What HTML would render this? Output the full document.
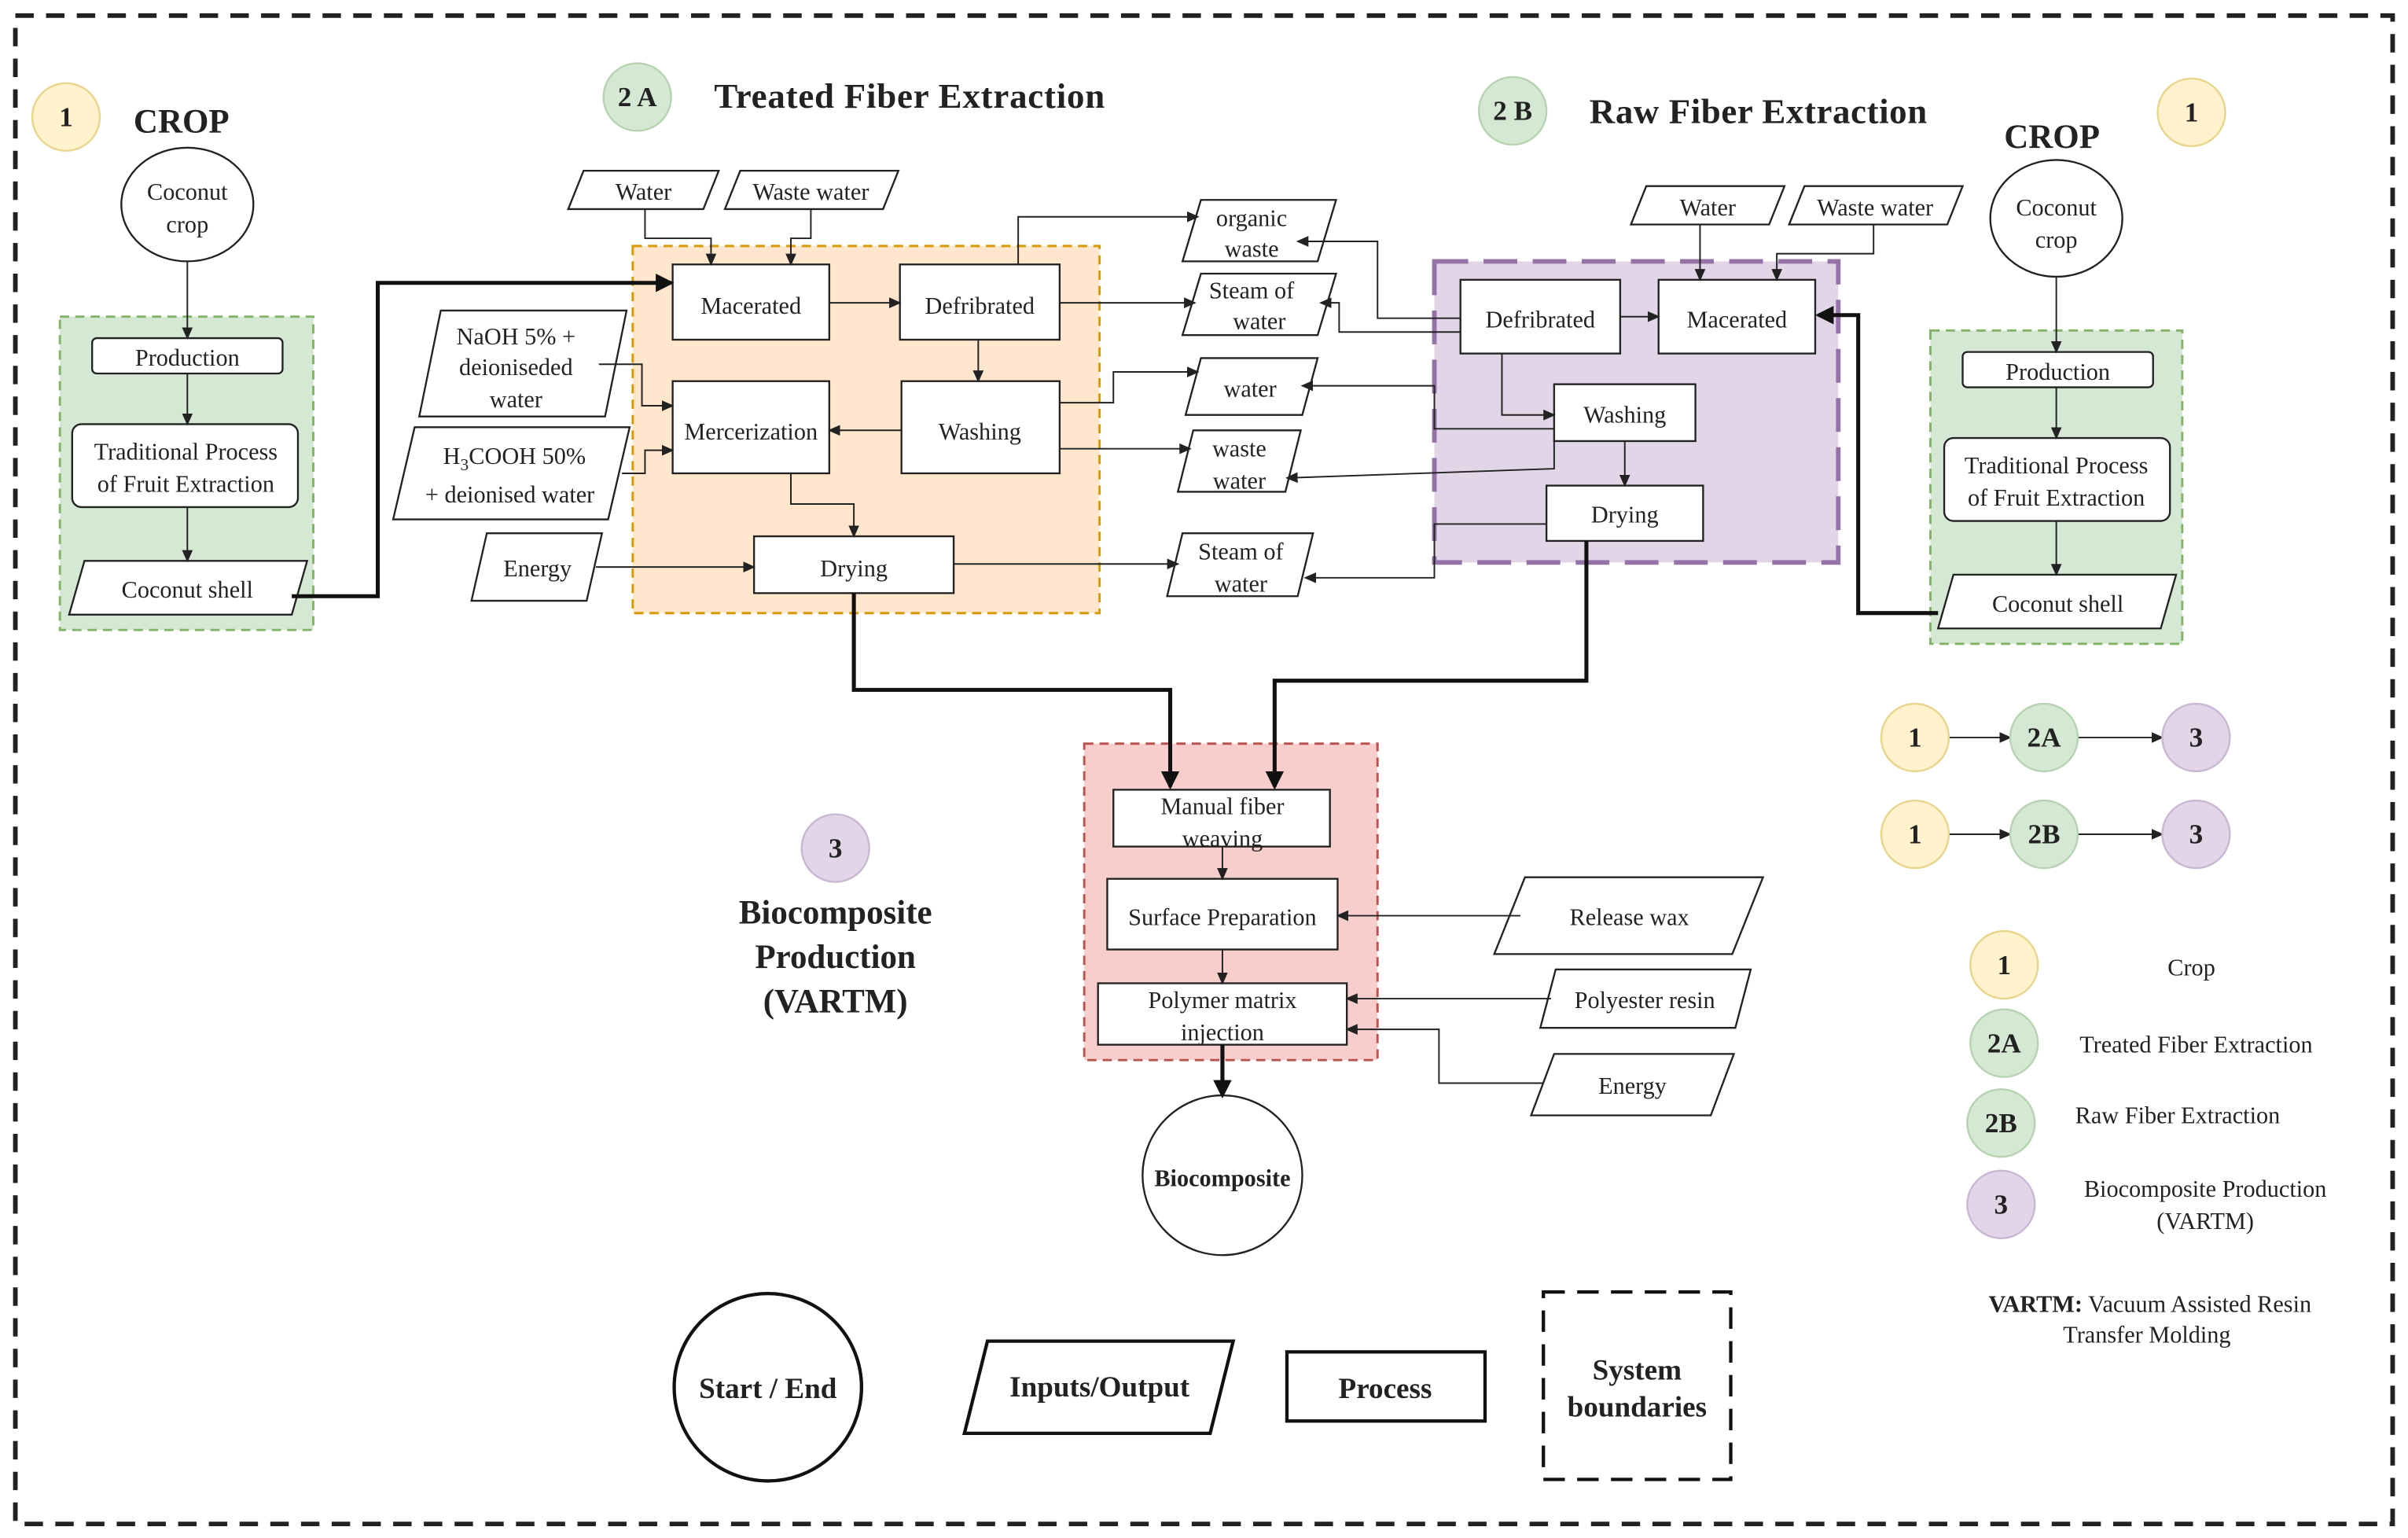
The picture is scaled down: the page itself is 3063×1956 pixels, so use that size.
<!DOCTYPE html>
<html><head><meta charset="utf-8"><style>
html,body{margin:0;padding:0;background:#fff}
svg{display:block}
text{font-family:"Liberation Serif",serif;fill:#222}
</style></head><body>
<svg width="3063" height="1956" viewBox="0 0 1568 1001" xmlns="http://www.w3.org/2000/svg">
<defs>
<marker id="a" markerUnits="userSpaceOnUse" markerWidth="8" markerHeight="8" refX="7" refY="4" orient="auto"><path d="M0,0.5 L8,4 L0,7.5 z" fill="#222"/></marker>
<marker id="b" markerUnits="userSpaceOnUse" markerWidth="12" markerHeight="12" refX="10" refY="6" orient="auto"><path d="M0,0 L12,6 L0,12 z" fill="#111"/></marker>
</defs>
<rect x="0" y="0" width="1568" height="1001" fill="#fff"/>
<rect x="10" y="10" width="1548" height="982" fill="none" stroke="#222" stroke-width="3" stroke-dasharray="12,8"/>

<rect x="39" y="206" width="165" height="204" fill="#d5e8d4" stroke="#82b366" stroke-width="1.5" stroke-dasharray="6,4"/>
<rect x="1257" y="215" width="164" height="204" fill="#d5e8d4" stroke="#82b366" stroke-width="1.5" stroke-dasharray="6,4"/>
<rect x="412" y="160" width="304" height="239" fill="#ffe6cc" stroke="#d79b00" stroke-width="1.5" stroke-dasharray="6,4"/>
<rect x="934" y="170" width="263" height="196" fill="#e1d5e7" stroke="#9673a6" stroke-width="3" stroke-dasharray="22,10"/>
<rect x="706" y="484" width="191" height="206" fill="#f8cecc" stroke="#b85450" stroke-width="1.5" stroke-dasharray="6,4"/>

<g stroke="#222" stroke-width="1.2" fill="#fff">
<ellipse cx="122" cy="133" rx="43" ry="37"/>
<rect x="60" y="220" width="124" height="23" rx="3"/>
<rect x="47" y="276" width="147" height="54" rx="6"/>
<polygon points="55,365 200,365 190,400 45,400"/>
<ellipse cx="1339" cy="142" rx="43" ry="38"/>
<rect x="1278" y="229" width="124" height="23" rx="3"/>
<rect x="1266" y="285" width="147" height="54" rx="6"/>
<polygon points="1272,374 1417,374 1407,409 1262,409"/>
<polygon points="380,111 468,111 458,136 370,136"/>
<polygon points="482,111 585,111 575,136 472,136"/>
<rect x="438" y="172" width="102" height="49"/>
<rect x="586" y="172" width="104" height="49"/>
<polygon points="287,202 408,202 394,271 273,271"/>
<polygon points="270,278 410,278 396,338 256,338"/>
<rect x="438" y="248" width="102" height="60"/>
<rect x="587" y="248" width="103" height="60"/>
<polygon points="317,347 392,347 382,391 307,391"/>
<rect x="491" y="349" width="130" height="37"/>
<polygon points="782,130 870,130 858,170 770,170"/>
<polygon points="782,178 870,178 858,218 770,218"/>
<polygon points="782,233 858,233 848,270 772,270"/>
<polygon points="777,280 847,280 837,320 767,320"/>
<polygon points="770,347 855,347 845,388 760,388"/>
<polygon points="1072,121 1162,121 1152,146 1062,146"/>
<polygon points="1175,121 1278,121 1268,146 1165,146"/>
<rect x="951" y="182" width="104" height="48"/>
<rect x="1080" y="182" width="102" height="48"/>
<rect x="1012" y="250" width="92" height="37"/>
<rect x="1007" y="316" width="102" height="36"/>
<rect x="725" y="514" width="141" height="37"/>
<rect x="721" y="572" width="150" height="46"/>
<rect x="715" y="640" width="162" height="40"/>
<circle cx="796" cy="765" r="52"/>
<polygon points="993,571 1148,571 1128,621 973,621"/>
<polygon points="1013,631 1140,631 1130,669 1003,669"/>
<polygon points="1012,686 1129,686 1114,726 997,726"/>
</g>

<g stroke="#111" stroke-width="2.2" fill="#fff">
<circle cx="500" cy="903" r="61"/>
<polygon points="643,873 803,873 788,933 628,933"/>
<rect x="838" y="880" width="129" height="45"/>
<rect x="1005" y="841" width="122" height="122" stroke-dasharray="14,8"/>
</g>

<g stroke="#222" stroke-width="1" fill="none" marker-end="url(#a)">
<path d="M122,170 V220"/><path d="M122,243 V276"/><path d="M122,330 V365"/>
<path d="M1339,180 V229"/><path d="M1339,252 V285"/><path d="M1339,339 V374"/>
<path d="M420,136 V155 H463 V172"/>
<path d="M528,136 V155 H515 V172"/>
<path d="M540,197 H586"/>
<path d="M637,221 V248"/>
<path d="M587,280 H540"/>
<path d="M390,237 H418 V264 H438"/>
<path d="M405,308 H420 V293 H438"/>
<path d="M515,308 V328 H556 V349"/>
<path d="M388,369 H491"/>
<path d="M621,367 H767"/>
<path d="M663,172 V141 H780"/>
<path d="M690,197 H778"/>
<path d="M690,262 H725 V242 H780"/>
<path d="M690,292 H775"/>
<path d="M1107,146 V182"/>
<path d="M1220,146 V165 H1157 V182"/>
<path d="M1055,206 H1080"/>
<path d="M951,207 H897 V157 H845"/>
<path d="M951,216 H872 V197 H860"/>
<path d="M978,230 V270 H1012"/>
<path d="M1012,279 H934 V251 H848"/>
<path d="M1012,287 V305 L838,311"/>
<path d="M1058,287 V316"/>
<path d="M1007,341 H934 V376 H850"/>
<path d="M796,551 V572"/>
<path d="M796,618 V640"/>
<path d="M990,596 H871"/>
<path d="M1010,650 H877"/>
<path d="M1005,705 H937 V670 H877"/>
<path d="M1269,480 H1309"/><path d="M1353,480 H1408"/>
<path d="M1269,543 H1309"/><path d="M1353,543 H1408"/>
</g>
<g stroke="#111" stroke-width="2.6" fill="none" marker-end="url(#b)">
<path d="M190,388 H246 V184 H437"/>
<path d="M1262,399 H1210 V205 H1184"/>
<path d="M556,386 V449 H762 V512"/>
<path d="M1033,352 V443 H830 V512"/>
<path d="M796,680 V713"/>
</g>

<g stroke-width="1.2">
<circle cx="43" cy="76" r="22" fill="#fff2cc" stroke="#e8d48a"/>
<circle cx="1427" cy="73" r="22" fill="#fff2cc" stroke="#e8d48a"/>
<circle cx="415" cy="63" r="22" fill="#d5e8d4" stroke="#b5d3b0"/>
<circle cx="985" cy="72" r="22" fill="#d5e8d4" stroke="#b5d3b0"/>
<circle cx="544" cy="552" r="22" fill="#e1d5e7" stroke="#c9b6d3"/>
<circle cx="1247" cy="480" r="22" fill="#fff2cc" stroke="#e8d48a"/>
<circle cx="1331" cy="480" r="22" fill="#d5e8d4" stroke="#b5d3b0"/>
<circle cx="1430" cy="480" r="22" fill="#e1d5e7" stroke="#c9b6d3"/>
<circle cx="1247" cy="543" r="22" fill="#fff2cc" stroke="#e8d48a"/>
<circle cx="1331" cy="543" r="22" fill="#d5e8d4" stroke="#b5d3b0"/>
<circle cx="1430" cy="543" r="22" fill="#e1d5e7" stroke="#c9b6d3"/>
<circle cx="1305" cy="628" r="22" fill="#fff2cc" stroke="#e8d48a"/>
<circle cx="1305" cy="679" r="22" fill="#d5e8d4" stroke="#b5d3b0"/>
<circle cx="1303" cy="731" r="22" fill="#d5e8d4" stroke="#b5d3b0"/>
<circle cx="1303" cy="784" r="22" fill="#e1d5e7" stroke="#c9b6d3"/>
</g>

<g font-weight="bold" font-size="18" text-anchor="middle">
<text x="43" y="82">1</text><text x="1427" y="79">1</text>
<text x="415" y="69">2 A</text><text x="985" y="78">2 B</text>
<text x="544" y="558">3</text>
<text x="1247" y="486">1</text><text x="1331" y="486">2A</text><text x="1430" y="486">3</text>
<text x="1247" y="549">1</text><text x="1331" y="549">2B</text><text x="1430" y="549">3</text>
<text x="1305" y="634">1</text><text x="1305" y="685">2A</text><text x="1303" y="737">2B</text><text x="1303" y="790">3</text>
</g>

<g font-weight="bold" font-size="22">
<text x="87" y="86">CROP</text>
<text x="1305" y="96">CROP</text>
<text x="465" y="70" font-size="23" letter-spacing="0.4">Treated Fiber Extraction</text>
<text x="1035" y="80" font-size="23" letter-spacing="0.3">Raw Fiber Extraction</text>
<text x="544" y="601" text-anchor="middle">Biocomposite</text>
<text x="544" y="630" text-anchor="middle">Production</text>
<text x="544" y="659" text-anchor="middle">(VARTM)</text>
</g>

<g font-size="15.5" text-anchor="middle">
<text x="122" y="130">Coconut</text><text x="122" y="151">crop</text>
<text x="122" y="238">Production</text>
<text x="121" y="299">Traditional Process</text><text x="121" y="320">of Fruit Extraction</text>
<text x="122" y="389">Coconut shell</text>
<text x="1339" y="140">Coconut</text><text x="1339" y="161">crop</text>
<text x="1340" y="247">Production</text>
<text x="1339" y="308">Traditional Process</text><text x="1339" y="329">of Fruit Extraction</text>
<text x="1340" y="398">Coconut shell</text>
<text x="419" y="130">Water</text>
<text x="528" y="130">Waste water</text>
<text x="489" y="204">Macerated</text>
<text x="638" y="204">Defribrated</text>
<text x="336" y="224">NaOH 5% +</text><text x="336" y="244">deioniseded</text><text x="336" y="265">water</text>
<text x="335" y="302">H<tspan font-size="11" dy="4">3</tspan><tspan dy="-4">COOH 50%</tspan></text><text x="332" y="327">+ deionised water</text>
<text x="489" y="286">Mercerization</text>
<text x="638" y="286">Washing</text>
<text x="350" y="375">Energy</text>
<text x="556" y="375">Drying</text>
<text x="815" y="147">organic</text><text x="815" y="167">waste</text>
<text x="815" y="194">Steam of</text><text x="820" y="214">water</text>
<text x="814" y="258">water</text>
<text x="807" y="297">waste</text><text x="807" y="318">water</text>
<text x="808" y="364">Steam of</text><text x="808" y="385">water</text>
<text x="1112" y="140">Water</text>
<text x="1221" y="140">Waste water</text>
<text x="1003" y="213">Defribrated</text>
<text x="1131" y="213">Macerated</text>
<text x="1058" y="275">Washing</text>
<text x="1058" y="340">Drying</text>
<text x="796" y="530">Manual fiber</text><text x="796" y="551">weaving</text>
<text x="796" y="602">Surface Preparation</text>
<text x="796" y="656">Polymer matrix</text><text x="796" y="677">injection</text>
<text x="1061" y="602">Release wax</text>
<text x="1071" y="656">Polyester resin</text>
<text x="1063" y="712">Energy</text>
<text x="1427" y="635">Crop</text>
<text x="1430" y="685">Treated Fiber Extraction</text>
<text x="1418" y="731">Raw Fiber Extraction</text>
<text x="1436" y="779">Biocomposite Production</text><text x="1436" y="800">(VARTM)</text>
<text x="1400" y="854"><tspan font-weight="bold">VARTM:</tspan> Vacuum Assisted Resin</text>
<text x="1398" y="874">Transfer Molding</text>
</g>
<text x="796" y="772" font-size="15.5" font-weight="bold" text-anchor="middle">Biocomposite</text>

<g font-size="19" font-weight="bold" text-anchor="middle">
<text x="500" y="910">Start / End</text>
<text x="716" y="909">Inputs/Output</text>
<text x="902" y="910">Process</text>
<text x="1066" y="898">System</text><text x="1066" y="922">boundaries</text>
</g>
</svg>
</body></html>
